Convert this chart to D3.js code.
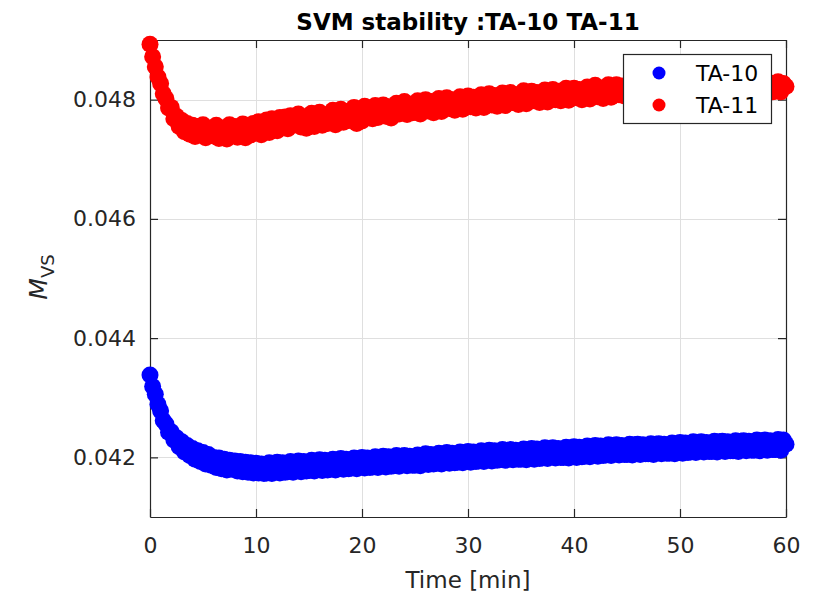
<!DOCTYPE html>
<html><head><meta charset="utf-8">
<script src="https://cdn.jsdelivr.net/npm/d3@7/dist/d3.min.js"></script>
<style>body{margin:0;background:#fff}svg{display:block}</style>
</head><body>
<svg id="chart" width="820" height="598"></svg>
<script>
const titleText = "SVM stability :TA-10 TA-11";
const seriesNames = ["TA-10", "TA-11"];
const seriesColors = ["#0000ff", "#ff0000"];
const xTicks = [0, 10, 20, 30, 40, 50, 60];
const yTicks = [0.042, 0.044, 0.046, 0.048];
const sampleStep = 0.25; // minutes between samples
const ta10 = [
0.04338,0.04319,0.04306,0.04289, 0.04278,0.04262,0.04256,0.04242, 0.04243,0.04229,0.04233,0.04218,
0.04226,0.04209,0.04220,0.04203, 0.04215,0.04197,0.04211,0.04193, 0.04208,0.04189,0.04205,0.04187,
0.04200,0.04183,0.04199,0.04181, 0.04197,0.04179,0.04195,0.04180, 0.04194,0.04177,0.04193,0.04176,
0.04192,0.04175,0.04191,0.04174, 0.04190,0.04174,0.04189,0.04173, 0.04174,0.04191,0.04173,0.04190,
0.04192,0.04174,0.04191,0.04175, 0.04176,0.04193,0.04175,0.04192, 0.04194,0.04176,0.04193,0.04177,
0.04178,0.04195,0.04177,0.04194, 0.04196,0.04178,0.04195,0.04179, 0.04180,0.04197,0.04179,0.04196,
0.04198,0.04180,0.04197,0.04181, 0.04182,0.04199,0.04181,0.04198, 0.04200,0.04182,0.04199,0.04183,
0.04184,0.04201,0.04183,0.04200, 0.04202,0.04184,0.04201,0.04185, 0.04186,0.04203,0.04185,0.04202,
0.04203,0.04186,0.04202,0.04187, 0.04187,0.04204,0.04186,0.04203, 0.04206,0.04188,0.04205,0.04189,
0.04190,0.04207,0.04189,0.04206, 0.04208,0.04190,0.04207,0.04191, 0.04192,0.04209,0.04191,0.04208,
0.04210,0.04192,0.04209,0.04193, 0.04194,0.04211,0.04193,0.04210, 0.04212,0.04194,0.04211,0.04195,
0.04196,0.04213,0.04195,0.04212, 0.04213,0.04196,0.04212,0.04197, 0.04197,0.04214,0.04196,0.04213,
0.04215,0.04197,0.04214,0.04198, 0.04199,0.04216,0.04198,0.04215, 0.04216,0.04199,0.04215,0.04200,
0.04200,0.04217,0.04199,0.04216, 0.04218,0.04200,0.04217,0.04201, 0.04202,0.04219,0.04201,0.04218,
0.04220,0.04202,0.04219,0.04203, 0.04204,0.04221,0.04203,0.04220, 0.04221,0.04204,0.04220,0.04205,
0.04205,0.04222,0.04204,0.04221, 0.04222,0.04205,0.04221,0.04206, 0.04206,0.04223,0.04205,0.04222,
0.04223,0.04206,0.04222,0.04207, 0.04207,0.04224,0.04206,0.04223, 0.04225,0.04207,0.04224,0.04208,
0.04209,0.04226,0.04208,0.04225, 0.04226,0.04209,0.04225,0.04210, 0.04210,0.04227,0.04209,0.04226,
0.04227,0.04210,0.04226,0.04211, 0.04211,0.04228,0.04210,0.04227, 0.04228,0.04211,0.04227,0.04212,
0.04212,0.04229,0.04211,0.04228, 0.04229,0.04212,0.04228,0.04213, 0.04213,0.04230,0.04212,0.04229,
0.04222];
const ta11 = [
0.04893,0.04872,0.04855,0.04838, 0.04827,0.04810,0.04802,0.04786, 0.04787,0.04768,0.04772,0.04755,
0.04765,0.04746,0.04760,0.04742, 0.04757,0.04738,0.04755,0.04741, 0.04758,0.04736,0.04750,0.04744,
0.04739,0.04757,0.04735,0.04752, 0.04748,0.04734,0.04758,0.04741, 0.04755,0.04737,0.04744,0.04759,
0.04736,0.04757,0.04741,0.04760, 0.04744,0.04763,0.04741,0.04760, 0.04766,0.04745,0.04768,0.04750,
0.04748,0.04770,0.04755,0.04771, 0.04751,0.04773,0.04757,0.04768, 0.04776,0.04754,0.04771,0.04752,
0.04758,0.04777,0.04755,0.04775, 0.04779,0.04757,0.04773,0.04760, 0.04763,0.04782,0.04758,0.04779,
0.04784,0.04762,0.04780,0.04765, 0.04766,0.04787,0.04760,0.04783, 0.04764,0.04789,0.04771,0.04786,
0.04768,0.04790,0.04770,0.04787, 0.04791,0.04772,0.04788,0.04769, 0.04774,0.04794,0.04776,0.04792,
0.04797,0.04775,0.04791,0.04778, 0.04779,0.04798,0.04776,0.04795, 0.04800,0.04781,0.04797,0.04778,
0.04784,0.04802,0.04780,0.04799, 0.04803,0.04785,0.04800,0.04782, 0.04787,0.04805,0.04784,0.04803,
0.04806,0.04788,0.04804,0.04786, 0.04790,0.04808,0.04787,0.04805, 0.04810,0.04791,0.04807,0.04789,
0.04793,0.04811,0.04790,0.04809, 0.04812,0.04795,0.04808,0.04792, 0.04797,0.04815,0.04793,0.04811,
0.04814,0.04798,0.04812,0.04795, 0.04799,0.04816,0.04796,0.04813, 0.04817,0.04800,0.04814,0.04798,
0.04802,0.04819,0.04799,0.04816, 0.04819,0.04803,0.04817,0.04800, 0.04804,0.04821,0.04801,0.04818,
0.04824,0.04805,0.04819,0.04802, 0.04807,0.04825,0.04804,0.04822, 0.04825,0.04808,0.04823,0.04806,
0.04809,0.04826,0.04806,0.04824, 0.04826,0.04809,0.04823,0.04807, 0.04810,0.04827,0.04808,0.04824,
0.04827,0.04810,0.04825,0.04808, 0.04811,0.04828,0.04809,0.04826, 0.04828,0.04811,0.04826,0.04809,
0.04812,0.04829,0.04810,0.04827, 0.04829,0.04812,0.04827,0.04810, 0.04813,0.04830,0.04811,0.04828,
0.04830,0.04813,0.04828,0.04811, 0.04814,0.04831,0.04812,0.04829, 0.04831,0.04814,0.04829,0.04812,
0.04815,0.04831,0.04813,0.04829, 0.04830,0.04814,0.04828,0.04813, 0.04815,0.04830,0.04813,0.04827,
0.04822];
const seriesValues = [ta10, ta11];

const svg = d3.select("#chart");
const FONT = "'DejaVu Sans', Arial, sans-serif";
const axisColor = "#262626";
const L = 150, R = 786, T = 40, B = 517;
const x = d3.scaleLinear().domain([0, 60]).range([L, R]);
const y = d3.scaleLinear().domain([0.041, 0.049]).range([B, T]);

svg.append("rect").attr("width", 820).attr("height", 598).attr("fill", "#fff");

// grid
const grid = svg.append("g").attr("stroke", "#dfdfdf").attr("stroke-width", 1);
xTicks.forEach(t => grid.append("line").attr("x1", Math.round(x(t)) + 0.5).attr("x2", Math.round(x(t)) + 0.5).attr("y1", T).attr("y2", B));
yTicks.forEach(t => grid.append("line").attr("y1", Math.round(y(t)) + 0.5).attr("y2", Math.round(y(t)) + 0.5).attr("x1", L).attr("x2", R));

// axes (ticks inward)
const tickLen = 8;
const xAxisB = d3.axisBottom(x).tickValues(xTicks).tickSizeInner(-tickLen).tickSizeOuter(0).tickPadding(20).tickFormat(d3.format("d"));
const xAxisT = d3.axisTop(x).tickValues(xTicks).tickSizeInner(-tickLen).tickSizeOuter(0).tickFormat("");
const yAxisL = d3.axisLeft(y).tickValues(yTicks).tickSizeInner(-tickLen).tickSizeOuter(0).tickPadding(14).tickFormat(d3.format(".3f"));
const yAxisR = d3.axisRight(y).tickValues(yTicks).tickSizeInner(-tickLen).tickSizeOuter(0).tickFormat("");

function styleAxis(g) {
  g.selectAll("path").attr("stroke", axisColor).attr("stroke-width", 1.2);
  g.selectAll("line").attr("stroke", axisColor).attr("stroke-width", 1.2);
  g.selectAll("text").attr("fill", axisColor).style("font-family", FONT).style("font-size", "22px");
}
svg.append("g").attr("transform", `translate(0,${B})`).call(xAxisB).call(styleAxis);
svg.append("g").attr("transform", `translate(0,${T})`).call(xAxisT).call(styleAxis);
svg.append("g").attr("transform", `translate(${L},0)`).call(yAxisL).call(styleAxis);
svg.append("g").attr("transform", `translate(${R},0)`).call(yAxisR).call(styleAxis);

// data points
seriesValues.forEach((vals, i) => {
  svg.append("g").selectAll("circle").data(vals).join("circle")
    .attr("cx", (d, k) => x(k * sampleStep))
    .attr("cy", d => y(d))
    .attr("r", 8.5)
    .attr("fill", seriesColors[i]);
});

// title
svg.append("text").attr("x", 468).attr("y", 30).attr("text-anchor", "middle")
  .style("font-family", FONT).style("font-size", "23px").style("font-weight", "bold")
  .attr("fill", "#000").text(titleText);

// x label
svg.append("text").attr("x", 468).attr("y", 588).attr("text-anchor", "middle")
  .style("font-family", FONT).style("font-size", "23px").attr("fill", axisColor).text("Time [min]");

// y label
const yl = svg.append("text").attr("transform", "translate(47,277) rotate(-90)").attr("text-anchor", "middle")
  .style("font-family", FONT).style("font-size", "25px").attr("fill", axisColor);
yl.append("tspan").style("font-style", "italic").text("M");
yl.append("tspan").attr("dy", 7).style("font-size", "18px").text("VS");

// legend
const lg = svg.append("g");
lg.append("rect").attr("x", 623.5).attr("y", 54.5).attr("width", 148).attr("height", 69)
  .attr("fill", "#fff").attr("stroke", axisColor).attr("stroke-width", 1.2);
seriesNames.forEach((n, i) => {
  const yy = 73 + i * 32;
  lg.append("circle").attr("cx", 659).attr("cy", yy).attr("r", 6.5).attr("fill", seriesColors[i]);
  lg.append("text").attr("x", 696).attr("y", yy).attr("dy", "0.36em")
    .style("font-family", FONT).style("font-size", "22px").attr("fill", "#000").text(n);
});
</script>
</body></html>
